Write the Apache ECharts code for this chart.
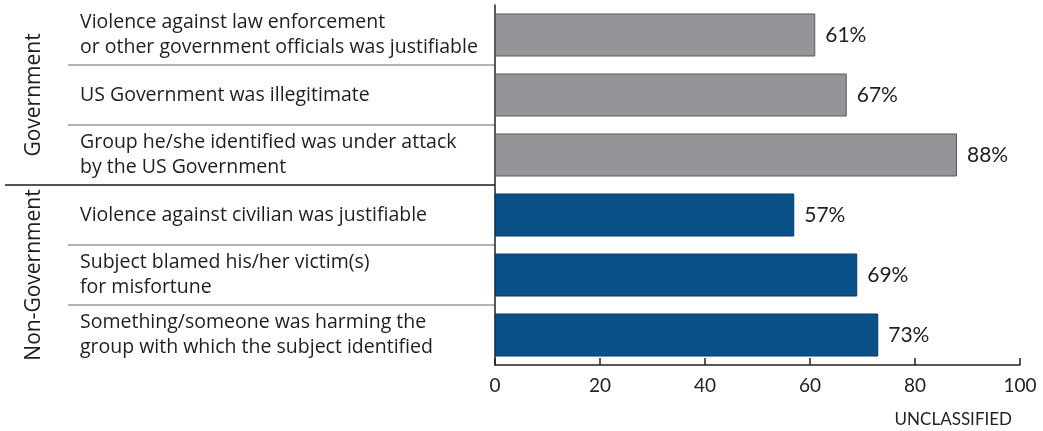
<!DOCTYPE html>
<html>
<head>
<meta charset="utf-8">
<script src="https://cdn.jsdelivr.net/npm/echarts@6/dist/echarts.min.js"></script>
<style>
  html, body { margin: 0; padding: 0; background: #fff; }
  #chart { width: 1043px; height: 431px; }
</style>
</head>
<body>
<div id="chart"></div>
<script>
// categories, top to bottom
var categories = [
  'Violence against law enforcement\nor other government officials was justifiable',
  'US Government was illegitimate',
  'Group he/she identified was under attack\nby the US Government',
  'Violence against civilian was justifiable',
  'Subject blamed his/her victim(s)\nfor misfortune',
  'Something/someone was harming the\ngroup with which the subject identified'
];
var values = [61, 67, 88, 57, 69, 73];
var groups = ['Government', 'Non-Government'];
var groupOf = [0, 0, 0, 1, 1, 1];
var xTicks = [0, 20, 40, 60, 80, 100];

var groupColors = ['#939598', '#0a5189'];
var groupBorders = ['#58595b', '#073a63'];

var labelFont = 'Open Sans';
var numFont = 'Lato';

var chart = echarts.init(document.getElementById('chart'));

var barData = values.map(function (v, i) {
  return {
    value: v,
    itemStyle: {
      color: groupColors[groupOf[i]],
      borderColor: groupBorders[groupOf[i]],
      borderWidth: 1
    }
  };
});

var option = {
  animation: false,
  title: {
    text: 'UNCLASSIFIED',
    right: 26,
    top: 406,
    textStyle: { fontFamily: numFont, fontSize: 17, fontWeight: 'normal', color: '#222' }
  },
  grid: [
    { left: 495, right: 23, top: 5, bottom: 66 },   // bars
    { left: 68, right: 548, top: 5, bottom: 66 },   // light separators
    { left: 5, right: 548, top: 5, bottom: 66 },    // group separator
    { left: 5, right: 548, top: 5, bottom: 66 }     // group labels
  ],
  xAxis: [
    {
      gridIndex: 0, type: 'value', min: 0, max: 100, interval: 20,
      axisLine: { show: true, lineStyle: { color: '#222', width: 1.5 } },
      axisTick: { show: true, inside: true, length: 7, lineStyle: { color: '#222', width: 1.5 } },
      splitLine: { show: false },
      axisLabel: {
        fontFamily: numFont, fontSize: 19, color: '#222', margin: 11,
        formatter: function (v) { return xTicks.indexOf(v) >= 0 ? String(v) : ''; }
      }
    },
    { gridIndex: 1, type: 'value', show: false, min: 0, max: 1 },
    { gridIndex: 2, type: 'value', show: false, min: 0, max: 1 },
    { gridIndex: 3, type: 'value', show: false, min: 0, max: 1 }
  ],
  yAxis: [
    {
      gridIndex: 0, type: 'category', inverse: true, data: categories,
      axisLine: { show: true, lineStyle: { color: '#222', width: 1.5 } },
      axisTick: { show: false },
      axisLabel: {
        align: 'left', margin: 415, fontFamily: labelFont, fontSize: 19.5,
        lineHeight: 25, color: '#1e1e1e', interval: 0
      }
    },
    {
      gridIndex: 1, type: 'value', min: 0, max: 6, interval: 1,
      axisLine: { show: false }, axisTick: { show: false }, axisLabel: { show: false },
      splitLine: { show: true, showMinLine: false, showMaxLine: false, lineStyle: { color: '#9a9a9a', width: 1.5 } }
    },
    {
      gridIndex: 2, type: 'value', min: 0, max: 6, interval: 3,
      axisLine: { show: false }, axisTick: { show: false }, axisLabel: { show: false },
      splitLine: { show: true, showMinLine: false, showMaxLine: false, lineStyle: { color: '#555', width: 2 } }
    },
    {
      gridIndex: 3, type: 'category', inverse: true, data: groups, offset: -29,
      axisLine: { show: false }, axisTick: { show: false },
      axisLabel: {
        rotate: 90, margin: 0, align: 'center', verticalAlign: 'middle',
        fontFamily: labelFont, fontSize: 21, color: '#1e1e1e', interval: 0
      }
    }
  ],
  series: [
    {
      type: 'bar',
      xAxisIndex: 0, yAxisIndex: 0,
      data: barData,
      barWidth: 43,
      label: {
        show: true, position: 'right', distance: 10,
        formatter: '{c}%', fontFamily: numFont, fontSize: 21, color: '#1e1e1e'
      }
    }
  ]
};

chart.setOption(option);
</script>
</body>
</html>
